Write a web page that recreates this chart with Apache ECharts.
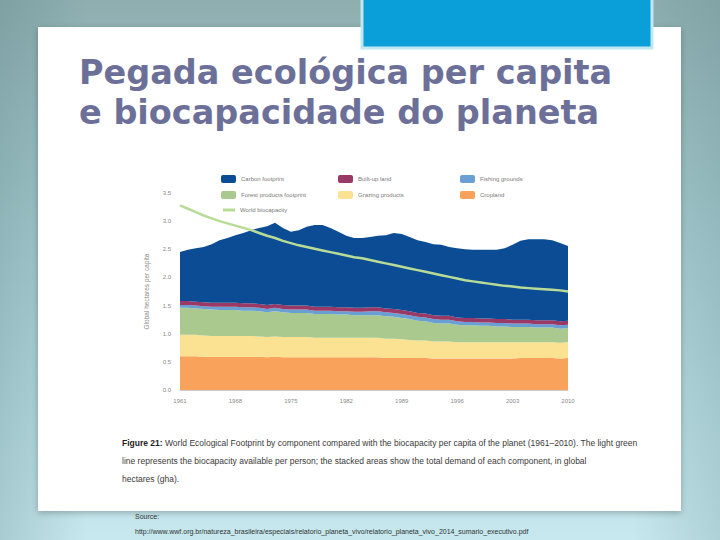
<!DOCTYPE html>
<html>
<head>
<meta charset="utf-8">
<script src="https://cdn.jsdelivr.net/npm/echarts@6/dist/echarts.min.js"></script>
<style>
html,body{margin:0;padding:0;background:#a9cccf;}
#c{width:720px;height:540px;}
</style>
</head>
<body>
<div id="c"></div>
<script>
var years = [1961,1962,1963,1964,1965,1966,1967,1968,1969,1970,
             1971,1972,1973,1974,1975,1976,1977,1978,1979,1980,
             1981,1982,1983,1984,1985,1986,1987,1988,1989,1990,
             1991,1992,1993,1994,1995,1996,1997,1998,1999,2000,
             2001,2002,2003,2004,2005,2006,2007,2008,2009,2010];

var cropland = [0.60,0.60,0.60,0.59,0.59,0.59,0.59,0.59,0.59,0.59,
                0.59,0.58,0.59,0.58,0.58,0.58,0.58,0.58,0.58,0.58,
                0.58,0.58,0.58,0.58,0.58,0.58,0.57,0.57,0.57,0.57,
                0.57,0.57,0.56,0.56,0.56,0.56,0.56,0.56,0.56,0.56,
                0.56,0.56,0.56,0.57,0.57,0.57,0.57,0.57,0.56,0.57];

var grazing = [0.38,0.38,0.38,0.38,0.37,0.37,0.37,0.37,0.37,0.37,
               0.36,0.36,0.36,0.36,0.36,0.36,0.36,0.35,0.35,0.35,
               0.35,0.35,0.35,0.35,0.35,0.35,0.34,0.34,0.33,0.32,
               0.31,0.31,0.30,0.30,0.30,0.29,0.29,0.29,0.29,0.29,
               0.29,0.29,0.29,0.28,0.28,0.28,0.28,0.28,0.28,0.28];

var forest = [0.48,0.48,0.47,0.47,0.47,0.46,0.46,0.46,0.45,0.45,
              0.45,0.44,0.45,0.44,0.43,0.43,0.43,0.42,0.42,0.42,
              0.41,0.41,0.40,0.40,0.40,0.40,0.40,0.39,0.38,0.37,
              0.35,0.34,0.33,0.32,0.32,0.31,0.30,0.30,0.29,0.29,
              0.28,0.28,0.27,0.27,0.27,0.26,0.26,0.26,0.25,0.25];

var fishing = [0.05,0.05,0.05,0.05,0.05,0.06,0.06,0.06,0.06,0.06,
               0.06,0.06,0.06,0.06,0.06,0.06,0.06,0.06,0.06,0.06,
               0.06,0.06,0.06,0.06,0.07,0.07,0.07,0.07,0.07,0.07,
               0.07,0.07,0.07,0.07,0.07,0.06,0.06,0.06,0.06,0.06,
               0.06,0.06,0.06,0.06,0.06,0.06,0.06,0.06,0.06,0.06];

var builtup = [0.07,0.07,0.07,0.07,0.07,0.07,0.07,0.07,0.07,0.07,
               0.07,0.07,0.07,0.07,0.07,0.07,0.07,0.07,0.07,0.07,
               0.07,0.07,0.07,0.07,0.07,0.07,0.07,0.07,0.07,0.07,
               0.07,0.07,0.07,0.07,0.07,0.07,0.07,0.07,0.07,0.07,
               0.07,0.07,0.07,0.07,0.07,0.07,0.07,0.07,0.07,0.07];

var carbon = [0.87,0.91,0.95,0.98,1.04,1.11,1.15,1.20,1.25,1.30,
              1.35,1.40,1.44,1.37,1.31,1.34,1.40,1.45,1.45,1.40,
              1.34,1.27,1.24,1.24,1.25,1.27,1.30,1.35,1.35,1.32,
              1.29,1.27,1.26,1.26,1.22,1.23,1.22,1.21,1.22,1.22,
              1.23,1.26,1.33,1.40,1.43,1.44,1.44,1.42,1.39,1.33];

var biocapacity = [3.28,3.22,3.16,3.10,3.05,3.00,2.96,2.92,2.88,2.84,
                   2.79,2.74,2.70,2.65,2.61,2.57,2.54,2.51,2.48,2.45,
                   2.42,2.39,2.36,2.34,2.31,2.28,2.25,2.22,2.19,2.16,
                   2.13,2.10,2.07,2.04,2.01,1.98,1.95,1.93,1.91,1.89,
                   1.87,1.85,1.84,1.82,1.81,1.80,1.79,1.78,1.77,1.75];

var yTicks = [0, 0.5, 1, 1.5, 2, 2.5, 3, 3.5];

var names = {
  carbon: 'Carbon footprint',
  builtup: 'Built-up land',
  fishing: 'Fishing grounds',
  forest: 'Forest products footprint',
  grazing: 'Grazing products',
  cropland: 'Cropland',
  bio: 'World biocapacity'
};

var titleLines = ['Pegada ecológica per capita', 'e biocapacidade do planeta'];
var captionLabel = 'Figure 21:';
var captionLines = [
  'World Ecological Footprint by component compared with the biocapacity per capita of the planet (1961\u20132010). The light green',
  'line represents the biocapacity available per person; the stacked areas show the total demand of each component, in global',
  'hectares (gha).'
];
var sourceLabel = 'Source:';
var sourceUrl = 'http://www.wwf.org.br/natureza_brasileira/especiais/relatorio_planeta_vivo/relatorio_planeta_vivo_2014_sumario_executivo.pdf';

var colors = {
  carbon: '#0b4c94', builtup: '#9a3866', fishing: '#6a9fd3',
  forest: '#a9c98e', grazing: '#fbe293', cropland: '#f9a25c', bio: '#b8dc98'
};

function area(key, data) {
  return {
    name: names[key], type: 'line', stack: 'fp', data: data,
    showSymbol: false, symbol: 'none',
    lineStyle: {width: 0, color: colors[key]},
    itemStyle: {color: colors[key]},
    areaStyle: {color: colors[key], opacity: 1},
    emphasis: {disabled: true}, z: 2
  };
}

var legendText = {color: '#7a7a7a', fontSize: 6, fontFamily: 'Liberation Sans'};

var chart = echarts.init(document.getElementById('c'), null, {renderer: 'svg'});
chart.setOption({
  animation: false,
  textStyle: {fontFamily: 'Liberation Sans'},
  graphic: [
    {type: 'rect', z: -100, shape: {x: 0, y: 0, width: 720, height: 540},
     style: {fill: new echarts.graphic.LinearGradient(0, 0, 0, 1, [
       {offset: 0, color: '#8eaeb0'}, {offset: 0.5, color: '#a9cfd4'}, {offset: 1, color: '#c6e8ee'}])}},
    {type: 'rect', z: -99, shape: {x: 0, y: 0, width: 720, height: 540},
     style: {fill: new echarts.graphic.LinearGradient(0, 0, 1, 0, [
       {offset: 0, color: 'rgba(80,120,125,0.25)'}, {offset: 0.12, color: 'rgba(80,120,125,0)'},
       {offset: 0.88, color: 'rgba(80,120,125,0)'}, {offset: 1, color: 'rgba(80,120,125,0.2)'}])}},
    {type: 'rect', z: -90, shape: {x: 38, y: 27, width: 643, height: 484},
     style: {fill: '#ffffff', shadowBlur: 6, shadowColor: 'rgba(0,0,0,0.25)', shadowOffsetY: 2}},
    {type: 'rect', z: -80, shape: {x: 362, y: -4, width: 290, height: 52},
     style: {fill: '#0a9fd9', stroke: '#bfe8f2', lineWidth: 3}},
    {type: 'text', z: 10, x: 79, y: 72,
     style: {text: titleLines[0], fill: '#6c7099', font: 'bold 33.5px "DejaVu Sans"', textVerticalAlign: 'middle'}},
    {type: 'text', z: 10, x: 79, y: 112,
     style: {text: titleLines[1], fill: '#6c7099', font: 'bold 33.5px "DejaVu Sans"', textVerticalAlign: 'middle'}},
    {type: 'text', z: 10, x: 122, y: 434,
     style: {text: '{b|' + captionLabel + '} ' + captionLines.join('\n'), lineHeight: 18,
             fill: '#3a3a3a', fontSize: 8.5, fontFamily: 'Liberation Sans',
             rich: {b: {fontWeight: 'bold', fontSize: 8.5, fill: '#222', lineHeight: 18}}}},
    {type: 'text', z: 10, x: 135, y: 513,
     style: {text: sourceLabel, fill: '#333', fontSize: 7, fontFamily: 'Liberation Sans'}},
    {type: 'text', z: 10, x: 135, y: 528,
     style: {text: sourceUrl, fill: '#333', fontSize: 7, fontFamily: 'Liberation Sans'}}
  ],
  legend: [
    {left: 216, top: 170, orient: 'vertical', itemGap: 8, itemWidth: 15, itemHeight: 8, icon: 'roundRect',
     textStyle: legendText, data: [names.carbon, names.forest]},
    {left: 333, top: 170, orient: 'vertical', itemGap: 8, itemWidth: 15, itemHeight: 8, icon: 'roundRect',
     textStyle: legendText, data: [names.builtup, names.grazing]},
    {left: 455, top: 170, orient: 'vertical', itemGap: 8, itemWidth: 15, itemHeight: 8, icon: 'roundRect',
     textStyle: legendText, data: [names.fishing, names.cropland]},
    {left: 218, top: 202, itemWidth: 12, itemHeight: 3, icon: 'rect',
     textStyle: legendText, data: [names.bio]}
  ],
  grid: {left: 180, right: 152, top: 193, bottom: 150},
  xAxis: {
    type: 'category', data: years, boundaryGap: false,
    axisLine: {show: true, lineStyle: {color: '#cccccc'}},
    axisTick: {show: false},
    axisLabel: {interval: 6, color: '#8a8a8a', fontSize: 6, margin: 8}
  },
  yAxis: {
    type: 'value', min: 0, max: 3.5, interval: 0.5,
    name: 'Global hectares per capita', nameLocation: 'middle', nameGap: 30, nameRotate: 90,
    nameTextStyle: {color: '#8a8a8a', fontSize: 6.5},
    axisLine: {show: false}, axisTick: {show: false}, splitLine: {show: false},
    axisLabel: {color: '#8a8a8a', fontSize: 6, margin: 9,
      formatter: function (v) { return yTicks.indexOf(v) >= 0 ? v.toFixed(1) : ''; }}
  },
  series: [
    area('cropland', cropland),
    area('grazing', grazing),
    area('forest', forest),
    area('fishing', fishing),
    area('builtup', builtup),
    area('carbon', carbon),
    {name: names.bio, type: 'line', data: biocapacity, showSymbol: false, symbol: 'none',
     lineStyle: {width: 2.5, color: colors.bio}, itemStyle: {color: colors.bio}, z: 5,
     emphasis: {disabled: true}}
  ]
});
</script>
</body>
</html>
